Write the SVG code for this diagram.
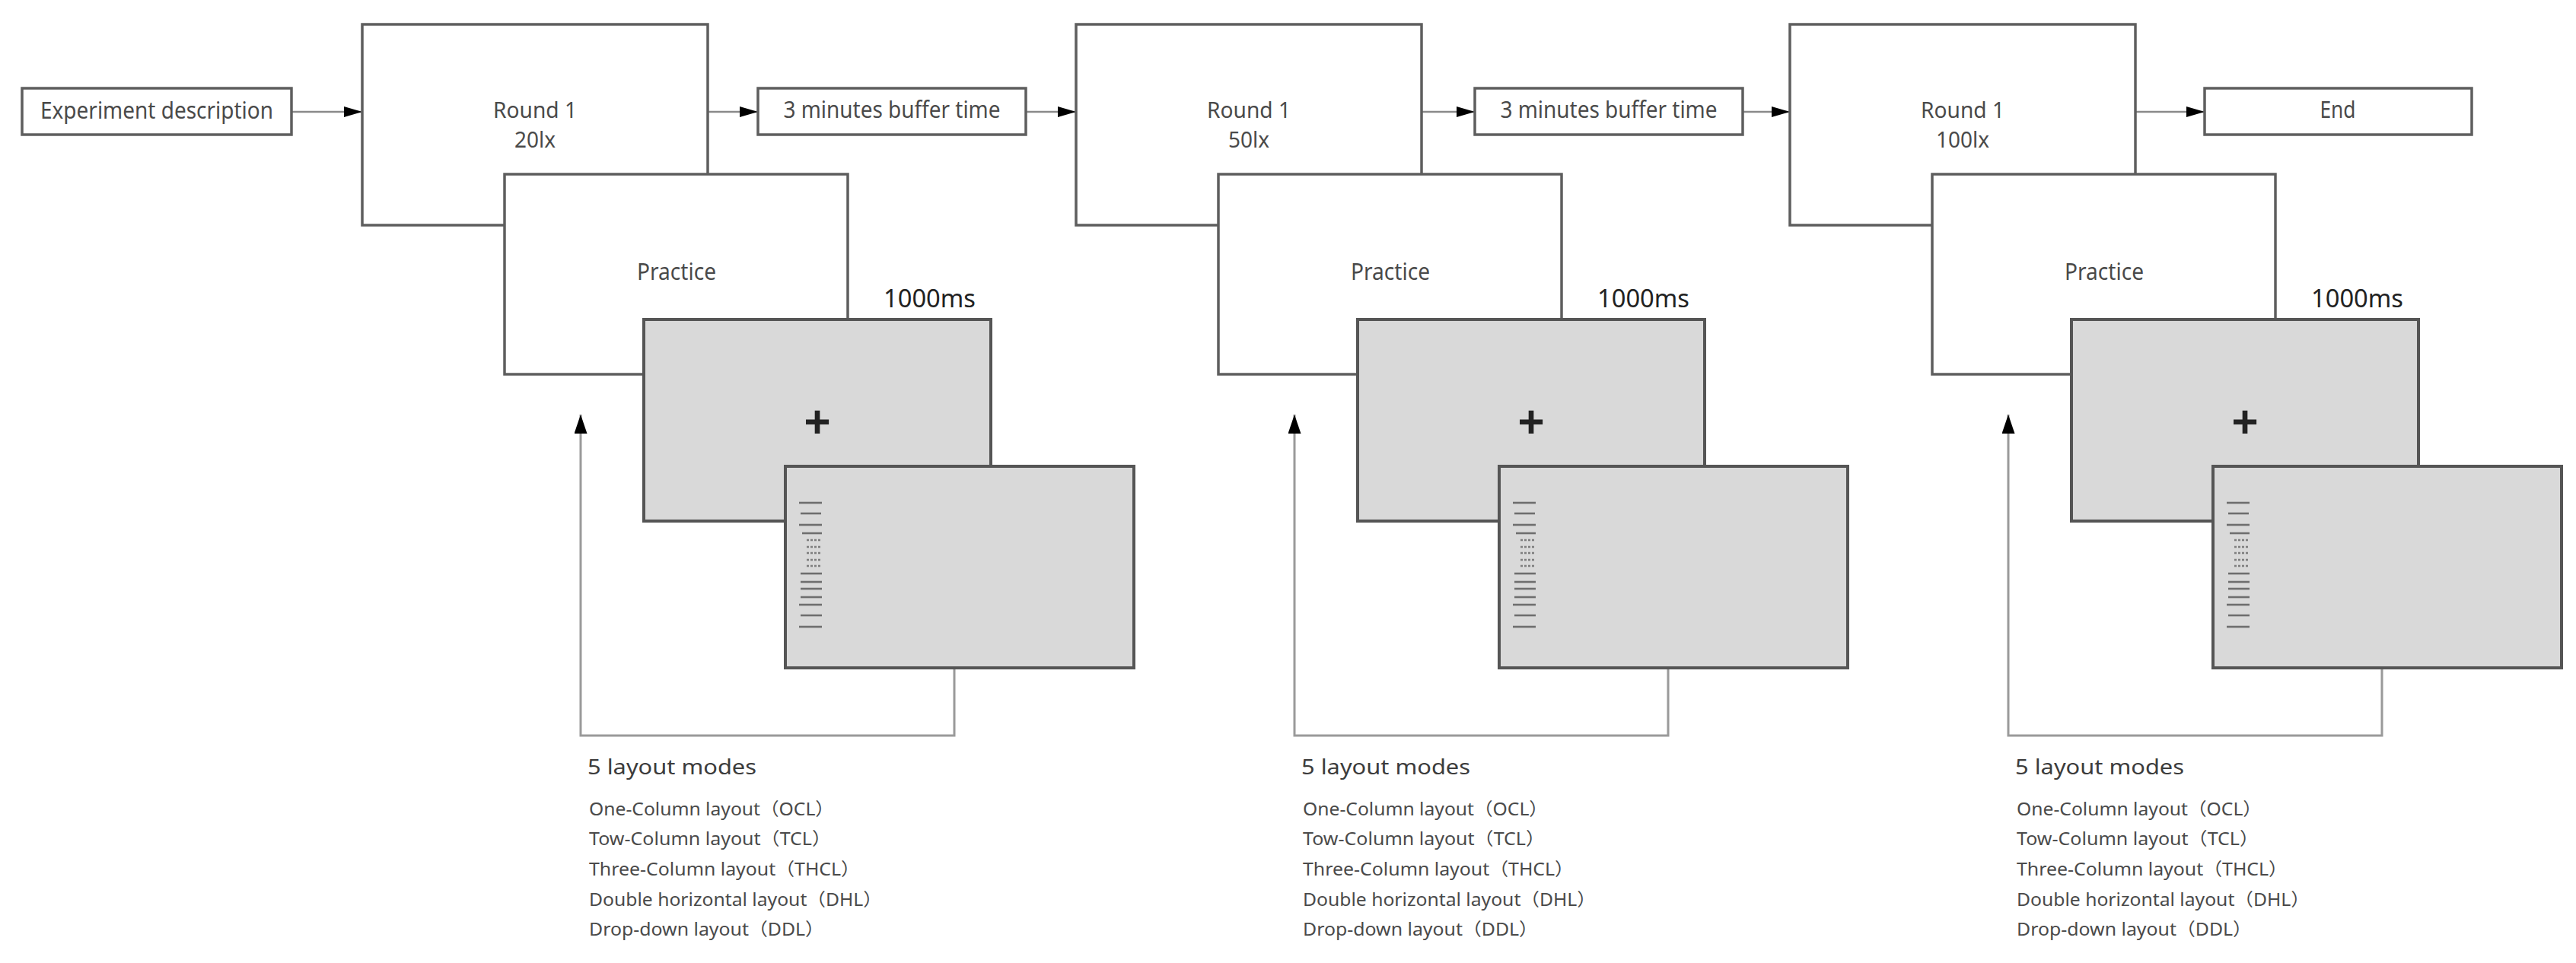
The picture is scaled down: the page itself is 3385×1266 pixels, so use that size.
<svg xmlns="http://www.w3.org/2000/svg" width="3385" height="1266" viewBox="0 0 3385 1266">
<defs>
<style>
.box{fill:#ffffff;stroke:#5e5e5e;stroke-width:3.5}
.scr{fill:#d9d9d9;stroke:#555555;stroke-width:4}
.lbl{font-family:"Noto Sans","Open Sans","Noto Sans CJK SC",sans-serif;fill:#4a4a4a;text-anchor:middle}
.ms{font-family:"Noto Sans","Open Sans",sans-serif;fill:#222;font-size:33px}
.plus{font-family:"Liberation Sans",Arial,sans-serif;fill:#222;font-size:60px;font-weight:bold;text-anchor:middle}
.head{font-family:"Noto Sans","Open Sans","Noto Sans CJK SC",sans-serif;fill:#3c3c3c;font-size:27px}
.item{font-family:"Noto Sans","Open Sans","Noto Sans CJK SC",sans-serif;fill:#4a4a4a;font-size:23px}
.conn{fill:none;stroke:#8a8a8a;stroke-width:2.5}
.loop{fill:none;stroke:#9a9a9a;stroke-width:3}
.tiny{stroke:#6e6e6e;stroke-width:2.6}
.tinyd{stroke:#7e7e7e;stroke-width:2.4;stroke-dasharray:3 2}
</style>
<marker id="ah" viewBox="0 0 24 14" refX="24" refY="7" markerWidth="24" markerHeight="14" markerUnits="userSpaceOnUse" orient="auto">
<path d="M0,0 L24,7 L0,14 Z" fill="#000"/>
</marker>
<marker id="ahl" viewBox="0 0 25 17" refX="25" refY="8.5" markerWidth="25" markerHeight="17" markerUnits="userSpaceOnUse" orient="auto">
<path d="M0,0 L25,8.5 L0,17 Z" fill="#000"/>
</marker>
<g id="lines">
<line class="tiny" x1="1050" y1="661" x2="1080" y2="661"/>
<line class="tiny" x1="1052" y1="675" x2="1079" y2="675"/>
<line class="tiny" x1="1050" y1="690" x2="1080" y2="690"/>
<line class="tiny" x1="1054" y1="701" x2="1080" y2="701"/>
<line class="tinyd" x1="1060" y1="710" x2="1079" y2="710"/>
<line class="tinyd" x1="1060" y1="719" x2="1079" y2="719"/>
<line class="tinyd" x1="1060" y1="727" x2="1079" y2="727"/>
<line class="tinyd" x1="1060" y1="736" x2="1079" y2="736"/>
<line class="tinyd" x1="1060" y1="744" x2="1079" y2="744"/>
<line class="tiny" x1="1052" y1="754" x2="1080" y2="754"/>
<line class="tiny" x1="1052" y1="765" x2="1080" y2="765"/>
<line class="tiny" x1="1052" y1="774" x2="1080" y2="774"/>
<line class="tiny" x1="1052" y1="785" x2="1080" y2="785"/>
<line class="tiny" x1="1050" y1="795" x2="1080" y2="795"/>
<line class="tiny" x1="1052" y1="809" x2="1080" y2="809"/>
<line class="tiny" x1="1050" y1="824" x2="1080" y2="824"/>
</g>
</defs>
<rect width="3385" height="1266" fill="#ffffff"/>

<g id="connectors">
<line class="conn" x1="383" y1="147" x2="476" y2="147" marker-end="url(#ah)"/>
<line class="conn" x1="930" y1="147" x2="996" y2="147" marker-end="url(#ah)"/>
<line class="conn" x1="1348" y1="147" x2="1414" y2="147" marker-end="url(#ah)"/>
<line class="conn" x1="1868" y1="147" x2="1938" y2="147" marker-end="url(#ah)"/>
<line class="conn" x1="2290" y1="147" x2="2352" y2="147" marker-end="url(#ah)"/>
<line class="conn" x1="2806" y1="147" x2="2897" y2="147" marker-end="url(#ah)"/>
<path class="loop" d="M1254,878 V967 H763 V545" marker-end="url(#ahl)"/>
<path class="loop" d="M2192,878 V967 H1701 V545" marker-end="url(#ahl)"/>
<path class="loop" d="M3130,878 V967 H2639 V545" marker-end="url(#ahl)"/>
</g>

<g id="experiment-description">
<rect class="box" x="29" y="116" width="354" height="61"/>
<text class="lbl" x="206" y="156" font-size="30" textLength="306" lengthAdjust="spacingAndGlyphs">Experiment description</text>
</g>
<g id="buffer-1">
<rect class="box" x="996" y="116" width="352" height="61"/>
<text class="lbl" x="1172" y="155" font-size="30" textLength="285" lengthAdjust="spacingAndGlyphs">3 minutes buffer time</text>
</g>
<g id="buffer-2">
<rect class="box" x="1938" y="116" width="352" height="61"/>
<text class="lbl" x="2114" y="155" font-size="30" textLength="285" lengthAdjust="spacingAndGlyphs">3 minutes buffer time</text>
</g>
<g id="end">
<rect class="box" x="2897" y="116" width="351" height="61"/>
<text class="lbl" x="3072" y="155" font-size="30" textLength="47" lengthAdjust="spacingAndGlyphs">End</text>
</g>

<!-- Column 1 -->
<g id="round-1-20lx">
<rect class="box" x="476" y="32" width="454" height="264"/>
<text class="lbl" x="703" y="155" font-size="29" textLength="110" lengthAdjust="spacingAndGlyphs">Round 1</text>
<text class="lbl" x="703" y="194" font-size="29" textLength="54" lengthAdjust="spacingAndGlyphs">20lx</text>
</g>
<g id="practice-1">
<rect class="box" x="663" y="229" width="451" height="263"/>
<text class="lbl" x="889" y="368" font-size="31" textLength="104" lengthAdjust="spacingAndGlyphs">Practice</text>
</g>
<g id="fixation-1">
<text class="ms" x="1161" y="404" textLength="121" lengthAdjust="spacingAndGlyphs">1000ms</text>
<rect class="scr" x="846" y="420" width="456" height="265"/>
<text class="plus" x="1074" y="575">+</text>
</g>
<g id="layout-screen-1">
<rect class="scr" x="1032" y="613" width="458" height="265"/>
<use href="#lines"/>
</g>
<g id="layout-modes-1">
<text class="head" x="772" y="1018" textLength="222" lengthAdjust="spacingAndGlyphs">5 layout modes</text>
<text class="item" x="774" y="1072" textLength="322" lengthAdjust="spacingAndGlyphs">One-Column layout（OCL）</text>
<text class="item" x="774" y="1111" textLength="318" lengthAdjust="spacingAndGlyphs">Tow-Column layout（TCL）</text>
<text class="item" x="774" y="1151" textLength="356" lengthAdjust="spacingAndGlyphs">Three-Column layout（THCL）</text>
<text class="item" x="774" y="1191" textLength="385" lengthAdjust="spacingAndGlyphs">Double horizontal layout（DHL）</text>
<text class="item" x="774" y="1230" textLength="309" lengthAdjust="spacingAndGlyphs">Drop-down layout（DDL）</text>
</g>

<!-- Column 2 -->
<g id="round-1-50lx">
<rect class="box" x="1414" y="32" width="454" height="264"/>
<text class="lbl" x="1641" y="155" font-size="29" textLength="110" lengthAdjust="spacingAndGlyphs">Round 1</text>
<text class="lbl" x="1641" y="194" font-size="29" textLength="54" lengthAdjust="spacingAndGlyphs">50lx</text>
</g>
<g id="practice-2">
<rect class="box" x="1601" y="229" width="451" height="263"/>
<text class="lbl" x="1827" y="368" font-size="31" textLength="104" lengthAdjust="spacingAndGlyphs">Practice</text>
</g>
<g id="fixation-2">
<text class="ms" x="2099" y="404" textLength="121" lengthAdjust="spacingAndGlyphs">1000ms</text>
<rect class="scr" x="1784" y="420" width="456" height="265"/>
<text class="plus" x="2012" y="575">+</text>
</g>
<g id="layout-screen-2">
<rect class="scr" x="1970" y="613" width="458" height="265"/>
<use href="#lines" transform="translate(938,0)"/>
</g>
<g id="layout-modes-2">
<text class="head" x="1710" y="1018" textLength="222" lengthAdjust="spacingAndGlyphs">5 layout modes</text>
<text class="item" x="1712" y="1072" textLength="322" lengthAdjust="spacingAndGlyphs">One-Column layout（OCL）</text>
<text class="item" x="1712" y="1111" textLength="318" lengthAdjust="spacingAndGlyphs">Tow-Column layout（TCL）</text>
<text class="item" x="1712" y="1151" textLength="356" lengthAdjust="spacingAndGlyphs">Three-Column layout（THCL）</text>
<text class="item" x="1712" y="1191" textLength="385" lengthAdjust="spacingAndGlyphs">Double horizontal layout（DHL）</text>
<text class="item" x="1712" y="1230" textLength="309" lengthAdjust="spacingAndGlyphs">Drop-down layout（DDL）</text>
</g>

<!-- Column 3 -->
<g id="round-1-100lx">
<rect class="box" x="2352" y="32" width="454" height="264"/>
<text class="lbl" x="2579" y="155" font-size="29" textLength="110" lengthAdjust="spacingAndGlyphs">Round 1</text>
<text class="lbl" x="2579" y="194" font-size="29" textLength="70" lengthAdjust="spacingAndGlyphs">100lx</text>
</g>
<g id="practice-3">
<rect class="box" x="2539" y="229" width="451" height="263"/>
<text class="lbl" x="2765" y="368" font-size="31" textLength="104" lengthAdjust="spacingAndGlyphs">Practice</text>
</g>
<g id="fixation-3">
<text class="ms" x="3037" y="404" textLength="121" lengthAdjust="spacingAndGlyphs">1000ms</text>
<rect class="scr" x="2722" y="420" width="456" height="265"/>
<text class="plus" x="2950" y="575">+</text>
</g>
<g id="layout-screen-3">
<rect class="scr" x="2908" y="613" width="458" height="265"/>
<use href="#lines" transform="translate(1876,0)"/>
</g>
<g id="layout-modes-3">
<text class="head" x="2648" y="1018" textLength="222" lengthAdjust="spacingAndGlyphs">5 layout modes</text>
<text class="item" x="2650" y="1072" textLength="322" lengthAdjust="spacingAndGlyphs">One-Column layout（OCL）</text>
<text class="item" x="2650" y="1111" textLength="318" lengthAdjust="spacingAndGlyphs">Tow-Column layout（TCL）</text>
<text class="item" x="2650" y="1151" textLength="356" lengthAdjust="spacingAndGlyphs">Three-Column layout（THCL）</text>
<text class="item" x="2650" y="1191" textLength="385" lengthAdjust="spacingAndGlyphs">Double horizontal layout（DHL）</text>
<text class="item" x="2650" y="1230" textLength="309" lengthAdjust="spacingAndGlyphs">Drop-down layout（DDL）</text>
</g>
</svg>
